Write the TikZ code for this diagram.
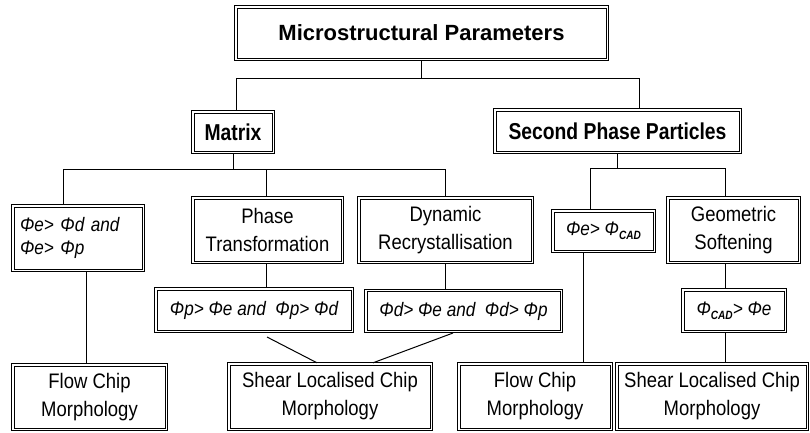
\documentclass[tikz,border=0pt]{standalone}
\usepackage{fontspec}
\setmainfont{Liberation Sans}
\newfontfamily\narrowsans[FakeStretch=0.88]{Liberation Sans}
\newfontfamily\narrowbold[FakeStretch=0.84]{Liberation Sans Bold}
\newfontfamily\narrowital[FakeStretch=0.88]{Liberation Sans Italic}
\begin{document}
\begin{tikzpicture}[x=1pt,y=-1pt,
  box/.style={inner sep=0pt, align=center, font=\narrowsans\fontsize{21}{28}\selectfont},
  headbox/.style={box, font=\narrowbold\fontsize{23}{26}\selectfont},
  outerline/.style={line width=1.1pt},
  innerline/.style={line width=0.5pt},
  conn/.style={line width=1pt},
  cond/.style={box, font=\narrowital\fontsize{19.5}{28}\selectfont}]
\fill[white] (0,0) rectangle (810,432);
\useasboundingbox (0,0) rectangle (810,432);
\newcommand{\cadsub}{\raisebox{-4pt}{\fontsize{12}{12}\selectfont\narrowbold\itshape CAD}}
% nodes
\node[box, minimum width=373pt, minimum height=54pt, font=\fontsize{22}{26}\selectfont\bfseries] (title) at (421.5,33) {Microstructural Parameters};
\node[headbox, minimum width=82pt, minimum height=42pt] (matrix) at (233,132) {Matrix};
\node[headbox, minimum width=247pt, minimum height=44pt] (spp) at (617.5,131) {Second Phase Particles};
\node[cond, minimum width=132pt, minimum height=66pt, text width=116pt, align=left, font=\narrowital\fontsize{19.5}{22.5}\selectfont] (c1) at (78,238) {Φe> Φd and\\Φe> Φp};
\node[box, minimum width=151pt, minimum height=66pt] (pt) at (267.5,230) {Phase\\Transformation};
\node[box, minimum width=175pt, minimum height=66pt] (dr) at (445.5,230) {Dynamic\\Recrystallisation};
\node[cond, minimum width=103pt, minimum height=42pt] (ce) at (603.5,231) {Φe> Φ\cadsub};
\node[box, minimum width=133pt, minimum height=66pt] (gs) at (733.5,230) {Geometric\\Softening};
\node[cond, minimum width=198pt, minimum height=44pt] (c2) at (254,310) {Φp> Φe and\ \ Φp> Φd};
\node[cond, minimum width=197pt, minimum height=43pt] (c3) at (463.5,311) {Φd> Φe and\ \ Φd> Φp};
\node[cond, minimum width=104pt, minimum height=43pt] (c4) at (734,310.5) {Φ\cadsub> Φe};
\node[box, minimum width=155pt, minimum height=66pt] (f1) at (89.5,397) {Flow Chip\\Morphology};
\node[box, minimum width=204pt, minimum height=67pt] (s1) at (330,396.5) {Shear Localised Chip\\Morphology};
\node[box, minimum width=154pt, minimum height=67pt] (f2) at (535,396.5) {Flow Chip\\Morphology};
\node[box, minimum width=192pt, minimum height=67pt] (s2) at (712,396.5) {Shear Localised Chip\\Morphology};
% double borders
\foreach \n in {title,matrix,spp,c1,pt,dr,ce,gs,c2,c3,c4,f1,s1,f2,s2}{
  \draw[outerline] (\n.north west) rectangle (\n.south east);
  \draw[innerline] ([shift={(2.4pt,-2.4pt)}]\n.north west) rectangle ([shift={(-2.4pt,2.4pt)}]\n.south east);
}
% bus coordinates
\coordinate (b0L) at (236,78);
\coordinate (b0R) at (639,78);
\coordinate (b1L) at (63,169);
\coordinate (b1R) at (445,169);
\coordinate (b2L) at (590,168);
\coordinate (b2R) at (725,168);
\coordinate (v1) at (86,0);
\coordinate (v2) at (583,0);
\coordinate (v3) at (266,0);
\coordinate (d1a) at (267,337);
\coordinate (d1b) at (317,0);
\coordinate (d2a) at (453,333);
\coordinate (d2b) at (373,0);
% connectors
\draw[conn] (title.south) -- (title.south |- b0L);
\draw[conn] (matrix.north -| b0L) -- (b0L) -- (b0R) -- (spp.north -| b0R);
\draw[conn] (matrix.south) -- (matrix.south |- b1L);
\draw[conn] (c1.north -| b1L) -- (b1L) -- (b1R) -- (dr.north -| b1R);
\draw[conn] (pt.north -| v3) -- (b1L -| v3);
\draw[conn] (spp.south) -- (spp.south |- b2L);
\draw[conn] (ce.north -| b2L) -- (b2L) -- (b2R) -- (gs.north -| b2R);
\draw[conn] (c1.south -| v1) -- (f1.north -| v1);
\draw[conn] (pt.south -| v3) -- (c2.north -| v3);
\draw[conn] (dr.south -| b1R) -- (c3.north -| b1R);
\draw[conn] (gs.south -| b2R) -- (c4.north -| b2R);
\draw[conn] (c4.south -| b2R) -- (s2.north -| b2R);
\draw[conn] (ce.south -| v2) -- (f2.north -| v2);
\draw[conn] (d1a) -- (s1.north -| d1b);
\draw[conn] (d2a) -- (s1.north -| d2b);
\end{tikzpicture}
\end{document}
